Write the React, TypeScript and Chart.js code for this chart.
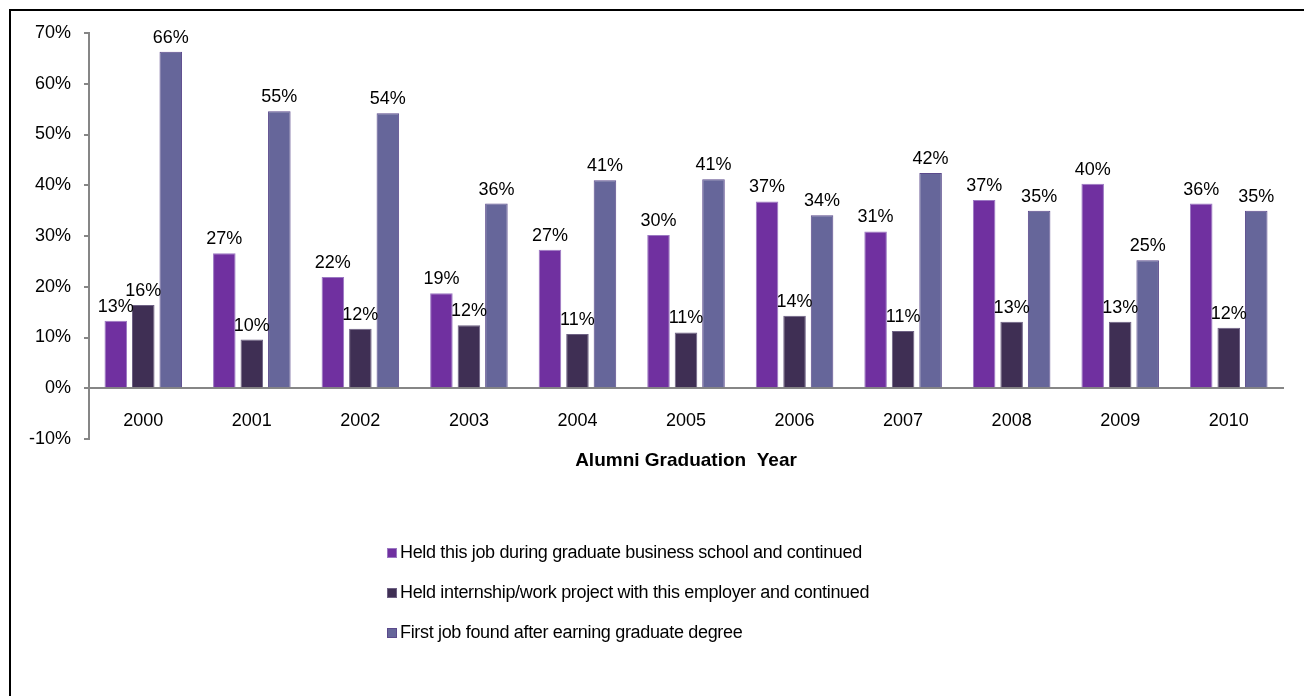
import React, { useEffect, useRef } from "react";
import { Chart, registerables } from "chart.js";

Chart.register(...registerables);

const categories = ["2000", "2001", "2002", "2003", "2004", "2005", "2006", "2007", "2008", "2009", "2010"];
const heldDuringSchool = [13.3, 26.6, 21.9, 18.7, 27.3, 30.2, 36.8, 30.9, 37.1, 40.3, 36.4];
const heldInternship = [16.4, 9.6, 11.7, 12.4, 10.7, 11.0, 14.3, 11.3, 13.1, 13.1, 11.9];
const firstJobAfter = [66.3, 54.6, 54.2, 36.4, 41.0, 41.2, 34.1, 42.4, 35.0, 25.2, 35.0];
const seriesLabels = [
  "Held this job during graduate business school and continued",
  "Held internship/work project with this employer and continued",
  "First job found after earning graduate degree",
];
const xTitle = "Alumni Graduation  Year";
const yTicks = [-10, 0, 10, 20, 30, 40, 50, 60, 70];

const FONT = "'Liberation Sans', Arial, sans-serif";

const labelPlugin = {
  id: "barLabels",
  afterDatasetsDraw(chart: any) {
    const ctx = chart.ctx;
    ctx.save();
    ctx.font = `18px ${FONT}`;
    ctx.fillStyle = "#000";
    ctx.textAlign = "center";
    ctx.textBaseline = "alphabetic";
    chart.data.datasets.forEach((ds: any, i: number) => {
      const meta = chart.getDatasetMeta(i);
      meta.data.forEach((bar: any, j: number) => {
        const v = ds.data[j];
        ctx.fillText(Math.round(v) + "%", bar.x, bar.y - 9);
      });
    });
    ctx.restore();
  },
};

const titleLegendPlugin = {
  id: "titleLegend",
  afterDraw(chart: any) {
    const ctx = chart.ctx;
    const area = chart.chartArea;
    ctx.save();
    // axis title
    ctx.font = `bold 19px ${FONT}`;
    ctx.fillStyle = "#000";
    ctx.textAlign = "center";
    ctx.textBaseline = "middle";
    ctx.fillText(xTitle, (area.left + area.right) / 2, 461);
    // legend
    ctx.font = `18px ${FONT}`;
    try { (ctx as any).letterSpacing = "-0.33px"; } catch (e) {}
    ctx.textBaseline = "middle";
    ctx.textAlign = "left";
    const x0 = 387;
    const ys = [553, 593, 633];
    chart.data.datasets.forEach((ds: any, i: number) => {
      const y = ys[i];
      ctx.fillStyle = ds.backgroundColor;
      ctx.fillRect(x0, y - 5, 10, 10);
      ctx.strokeStyle = ds.borderColor;
      ctx.lineWidth = 1;
      ctx.strokeRect(x0 + 0.5, y - 4.5, 9, 9);
      ctx.fillStyle = "#000";
      ctx.fillText(ds.label, x0 + 13, y);
    });
    ctx.restore();
  },
};

export default function App() {
  const ref = useRef<HTMLCanvasElement>(null);
  useEffect(() => {
    if (!ref.current) return;
    const chart = new Chart(ref.current, {
      type: "bar",
      data: {
        labels: categories,
        datasets: [
          { label: seriesLabels[0], data: heldDuringSchool, backgroundColor: "#7030A0", borderColor: "#9B78C2", borderWidth: 1 },
          { label: seriesLabels[1], data: heldInternship, backgroundColor: "#3F2F54", borderColor: "#6E6184", borderWidth: 1 },
          { label: seriesLabels[2], data: firstJobAfter, backgroundColor: "#66669A", borderColor: "#5B4A8C", borderWidth: 1 },
        ],
      },
      options: {
        animation: false,
        responsive: false,
        devicePixelRatio: 1,
        layout: { padding: { left: 10, top: 33, right: 21, bottom: 257 } },
        datasets: { bar: { categoryPercentage: 0.76, barPercentage: 0.82 } },
        plugins: { legend: { display: false }, tooltip: { enabled: false } },
        scales: {
          x: {
            position: { y: 0 } as any,
            grid: { display: true, drawOnChartArea: false, drawTicks: false, color: "#868686" },
            border: { display: true, color: "#868686", width: 2 },
            ticks: { color: "#000", font: { family: FONT, size: 18 }, padding: 22, maxRotation: 0 },
          },
          y: {
            min: -10,
            max: 70,
            afterFit: (s: any) => { s.width = 79; },
            afterBuildTicks: (s: any) => { s.ticks = yTicks.map((v) => ({ value: v })); },
            grid: { drawOnChartArea: false, drawTicks: true, tickLength: 5, color: "#868686", lineWidth: 2 },
            border: { display: true, color: "#868686", width: 2 },
            ticks: { color: "#000", font: { family: FONT, size: 18 }, padding: 13, callback: (v: any) => v + "%" },
          },
        },
      },
      plugins: [labelPlugin, titleLegendPlugin],
    });
    return () => chart.destroy();
  }, []);
  return (
    <div style={{ position: "fixed", left: 0, top: 0, width: 1304, height: 696, background: "#fff" }}>
      <div style={{ position: "absolute", left: 9, top: 9, width: 1400, height: 800, borderTop: "2px solid #000", borderLeft: "2px solid #000" }} />
      <canvas ref={ref} width={1304} height={696} style={{ position: "absolute", left: 0, top: 0 }} />
    </div>
  );
}
